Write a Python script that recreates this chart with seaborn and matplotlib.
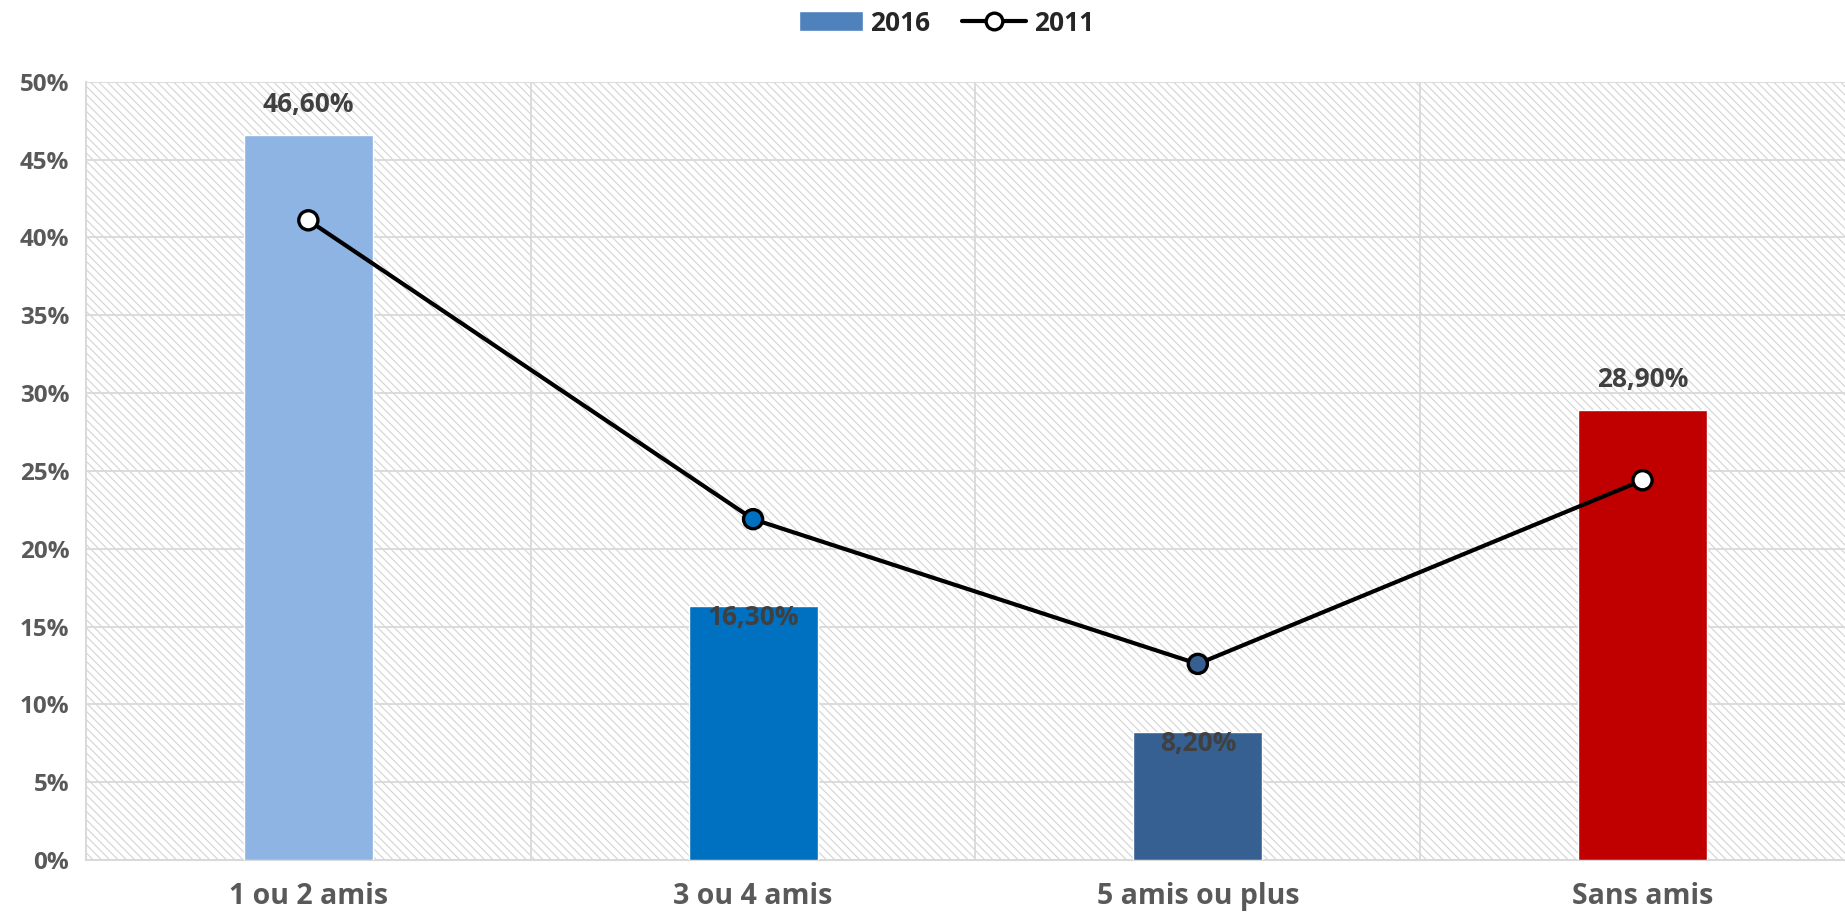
import matplotlib
matplotlib.use("Agg")
import matplotlib.pyplot as plt
from matplotlib.patches import Rectangle, Patch
from matplotlib.lines import Line2D
from matplotlib.ticker import MultipleLocator, FuncFormatter
import seaborn as sns
import pandas as pd

# données
categories = ["1 ou 2 amis", "3 ou 4 amis", "5 amis ou plus", "Sans amis"]
values_2016 = [46.6, 16.3, 8.2, 28.9]
values_2011 = [41.1, 21.9, 12.6, 24.4]
bar_colors = ["#8EB4E3", "#0070C0", "#376092", "#C00000"]
marker_colors = ["#FFFFFF", "#0070C0", "#376092", "#FFFFFF"]
label_offsets = [22, -8, -8, 22]  # décalage vertical des étiquettes (points)

sns.set_style("white")
plt.rcParams['font.family'] = ['Open Sans', 'DejaVu Sans']
plt.rcParams['hatch.linewidth'] = 0.8
plt.rcParams['hatch.color'] = '#D4D4D4'

df = pd.DataFrame({"cat": categories, "v2016": values_2016, "v2011": values_2011})

fig = plt.figure(figsize=(18.45, 9.21), dpi=100)
ax = fig.add_axes([0.0466, 0.0662, 0.9642, 0.845])

# fond hachuré
ax.add_patch(Rectangle((0, 0), 1, 1, transform=ax.transAxes, facecolor='white',
                       edgecolor='#D4D4D4', hatch='\\\\\\\\', linewidth=0, zorder=0))

sns.barplot(data=df, x="cat", y="v2016", hue="cat", palette=bar_colors,
            width=0.29, saturation=1, legend=False, ax=ax, zorder=3)

sns.lineplot(x=range(len(categories)), y=values_2011, color='black', linewidth=3,
             ax=ax, zorder=4)
ax.scatter(range(len(categories)), values_2011, s=190, c=marker_colors,
           edgecolors='black', linewidths=2.4, zorder=5)

# étiquettes de données
for i, v in enumerate(values_2016):
    ax.annotate(f"{v:.2f}%".replace(".", ","), (i, v), xytext=(0, label_offsets[i]),
                textcoords='offset points', ha='center', va='center',
                fontsize=19, fontweight='bold', color='#404040', zorder=6)

ax.set_xlim(-0.5, len(categories) - 0.5)
ax.set_ylim(0, 50)
ax.yaxis.set_major_locator(MultipleLocator(5))
ax.yaxis.set_major_formatter(FuncFormatter(lambda y, _: f"{y:.0f}%"))
ax.set_xticks(range(len(categories)))
ax.set_xticks([i - 0.5 for i in range(len(categories) + 1)], minor=True)
ax.set_xticklabels(categories, fontsize=20.5, fontweight='bold', color='#595959')
ax.tick_params(axis='y', labelsize=17.5, labelcolor='#595959', length=0, pad=12)
for lbl in ax.get_yticklabels():
    lbl.set_fontweight('bold')
ax.tick_params(axis='x', which='major', length=0, pad=16)
ax.tick_params(axis='x', which='minor', length=8, color='#D9D9D9', width=1.5)
ax.grid(axis='y', which='major', color='#D9D9D9', linewidth=1.3, zorder=1)
ax.grid(axis='x', which='minor', color='#D9D9D9', linewidth=1.3, zorder=1)
ax.set_axisbelow(True)
ax.set_xlabel("")
ax.set_ylabel("")
for side in ['top', 'right']:
    ax.spines[side].set_visible(False)
for side in ['left', 'bottom']:
    ax.spines[side].set_color('#D9D9D9')
    ax.spines[side].set_linewidth(1.5)

handles = [Patch(facecolor='#4F81BD', label='2016'),
           Line2D([0], [0], color='black', linewidth=3, marker='o', markersize=12,
                  markerfacecolor='white', markeredgewidth=2.4, label='2011')]
fig.legend(handles=handles, loc='center', bbox_to_anchor=(0.513, 0.975), ncol=2,
           frameon=False, prop={'size': 19, 'weight': 'bold'}, handlelength=2.4,
           handleheight=0.8, columnspacing=1.2, handletextpad=0.3)

fig.savefig("out.png", dpi=100)
